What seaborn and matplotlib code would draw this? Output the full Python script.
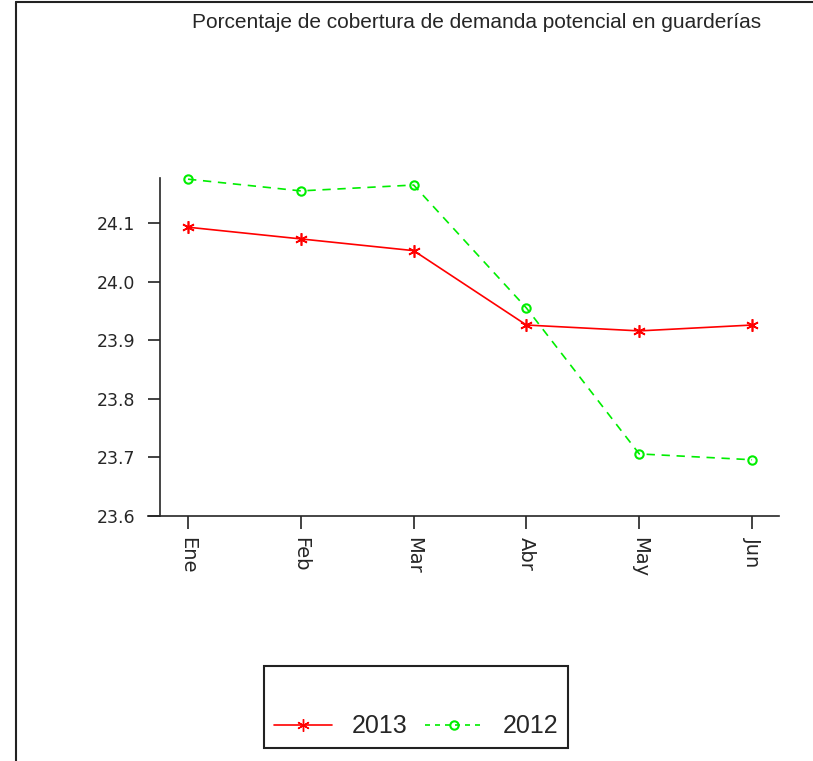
import seaborn as sns
import matplotlib.pyplot as plt
import matplotlib.lines as mlines
import pandas as pd

meses = ["Ene", "Feb", "Mar", "Abr", "May", "Jun"]
valores_2013 = [24.093, 24.073, 24.053, 23.926, 23.916, 23.926]
valores_2012 = [24.175, 24.155, 24.165, 23.955, 23.706, 23.696]
ticks_y = [23.6, 23.7, 23.8, 23.9, 24.0, 24.1]

sns.set_style("ticks")
plt.rcParams["font.family"] = ["DejaVu Sans"]

dane = pd.DataFrame({"mes": meses, "2013": valores_2013, "2012": valores_2012})

fig = plt.figure(figsize=(8.13, 7.61), dpi=100)
W, H = 813, 761
ax = fig.add_axes([148 / W, 1 - 516 / H, (779 - 148) / W, (516 - 178) / H])

sns.lineplot(data=dane, x="mes", y="2013", ax=ax, color="#ff0000", lw=1.2,
             marker=(6, 2, 0), markersize=9, markeredgecolor="#ff0000",
             markeredgewidth=1.2, sort=False, clip_on=False)
sns.lineplot(data=dane, x="mes", y="2012", ax=ax, color="#00ee00", lw=1.2,
             linestyle=(0, (5, 4)), marker="o", markersize=6,
             markerfacecolor="none", markeredgecolor="#00ee00",
             markeredgewidth=1.5, sort=False, clip_on=False)

ax.set_xlim(-0.355, 5.239)
ax.set_ylim(23.6, 24.177)
ax.set_xticks(range(len(meses)))
ax.set_xticklabels(meses, rotation=270)
ax.set_yticks(ticks_y)
ax.set_yticklabels([f"{v:.1f}" for v in ticks_y])
ax.set_xlabel("")
ax.set_ylabel("")

for s in ["top", "right"]:
    ax.spines[s].set_visible(False)
ax.spines["left"].set_position(("axes", 12 / 631))
ax.spines["left"].set_linewidth(1.2)
ax.spines["bottom"].set_linewidth(1.2)
ax.tick_params(axis="both", direction="out", length=9, width=1.2, color="#222222")
ax.tick_params(axis="x", pad=6, labelsize=14)
ax.tick_params(axis="y", pad=9, labelsize=12.5)

fig.text(477 / W, 1 - 22 / H, "Porcentaje de cobertura de demanda potencial en guarderías",
         ha="center", va="center", fontsize=15, family="Liberation Sans")

# ramka strony
fig.add_artist(mlines.Line2D([16 / W, 16 / W], [0, 1 - 2 / H], color="#222222", lw=1.5))
fig.add_artist(mlines.Line2D([16 / W, 1], [1 - 2 / H, 1 - 2 / H], color="#222222", lw=1.5))

h1 = mlines.Line2D([], [], color="#ff0000", lw=1.2, marker=(6, 2, 0), markersize=9,
                   markeredgecolor="#ff0000")
h2 = mlines.Line2D([], [], color="#00ee00", lw=1.2, linestyle=(0, (3, 3)), marker="o",
                   markersize=6, markerfacecolor="none", markeredgecolor="#00ee00",
                   markeredgewidth=1.5)
leg = fig.legend([h1, h2], ["2013", "2012"], ncol=2, loc="center",
                 bbox_to_anchor=(416 / W, 1 - 707 / H),
                 prop={"family": "Liberation Sans", "size": 18},
                 title=" ", title_fontsize=19, handlelength=2.3, columnspacing=0.7,
                 handletextpad=0.8, fancybox=False, edgecolor="#222222", framealpha=1,
                 borderpad=0.4)
leg.get_frame().set_linewidth(1.5)

plt.savefig("out.png", dpi=100)
